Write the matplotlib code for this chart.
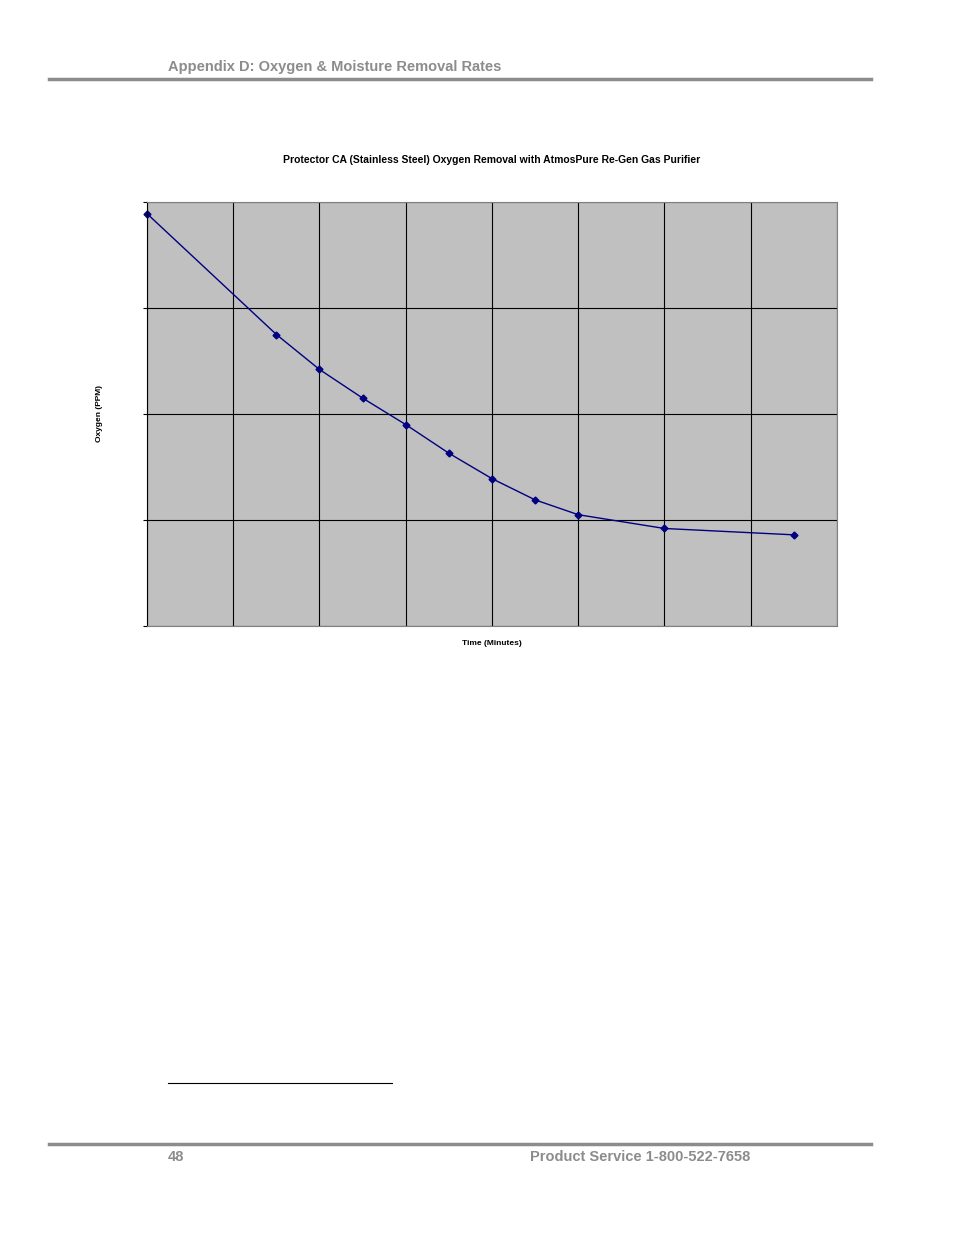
import matplotlib
matplotlib.use("Agg")
import matplotlib.pyplot as plt
from matplotlib.lines import Line2D

time_min = [0, 1.5, 2, 2.5, 3, 3.5, 4, 4.5, 5, 6, 7.5]
oxygen = [3.89, 2.75, 2.42, 2.15, 1.90, 1.63, 1.39, 1.19, 1.05, 0.92, 0.86]

W, H = 954, 1235
fig = plt.figure(figsize=(W/100, H/100), dpi=100)
ax = fig.add_axes([147/W, 1-626/H, 690/W, 424/H])
ax.set_facecolor("#c0c0c0")
ax.set_xlim(0, 8); ax.set_ylim(0, 4)
ax.set_xticks(range(9)); ax.set_yticks(range(5))
ax.grid(True, color="black", linewidth=0.8)
ax.set_axisbelow(True)
ax.tick_params(axis="x", length=0, labelbottom=False)
ax.tick_params(axis="y", length=3, direction="out", labelleft=False)
for s in ax.spines.values():
    s.set_color("#808080"); s.set_linewidth(0.8)
ax.spines["left"].set_color("black")
ax.plot(time_min, oxygen, color="#000080", linewidth=1, marker="D", markersize=3.5, clip_on=False)

fig.text(492/W, 1-160/H, "Protector CA (Stainless Steel) Oxygen Removal with AtmosPure Re-Gen Gas Purifier",
         ha="center", va="center", fontsize=7.5, fontweight="bold", family="Liberation Sans")
fig.text(492/W, 1-644/H, "Time (Minutes)", ha="center", va="center", fontsize=6, fontweight="bold", family="Liberation Sans")
fig.text(100/W, 1-413/H, "Oxygen (PPM)", ha="center", va="center", rotation=90, fontsize=6, fontweight="bold", family="Liberation Sans")

gray = "#8c8c8c"
fig.text(168/W, 1-67/H, "Appendix D: Oxygen & Moisture Removal Rates", ha="left", va="center",
         fontsize=10.5, fontweight="bold", color=gray, family="Liberation Sans")
fig.add_artist(Line2D([49/W, 871/W], [1-79/H]*2, color=gray, linewidth=2.5))
fig.add_artist(Line2D([49/W, 871/W], [1-1144/H]*2, color=gray, linewidth=2.5))
fig.add_artist(Line2D([168/W, 392/W], [1-1083/H]*2, color="black", linewidth=0.8))
fig.text(168/W, 1-1157/H, "48", ha="left", va="center", fontsize=10.5, fontweight="bold", color=gray, family="Liberation Sans")
fig.text(750/W, 1-1157/H, "Product Service 1-800-522-7658", ha="right", va="center",
         fontsize=10.5, fontweight="bold", color=gray, family="Liberation Sans")
fig.savefig("out.png", dpi=100)
